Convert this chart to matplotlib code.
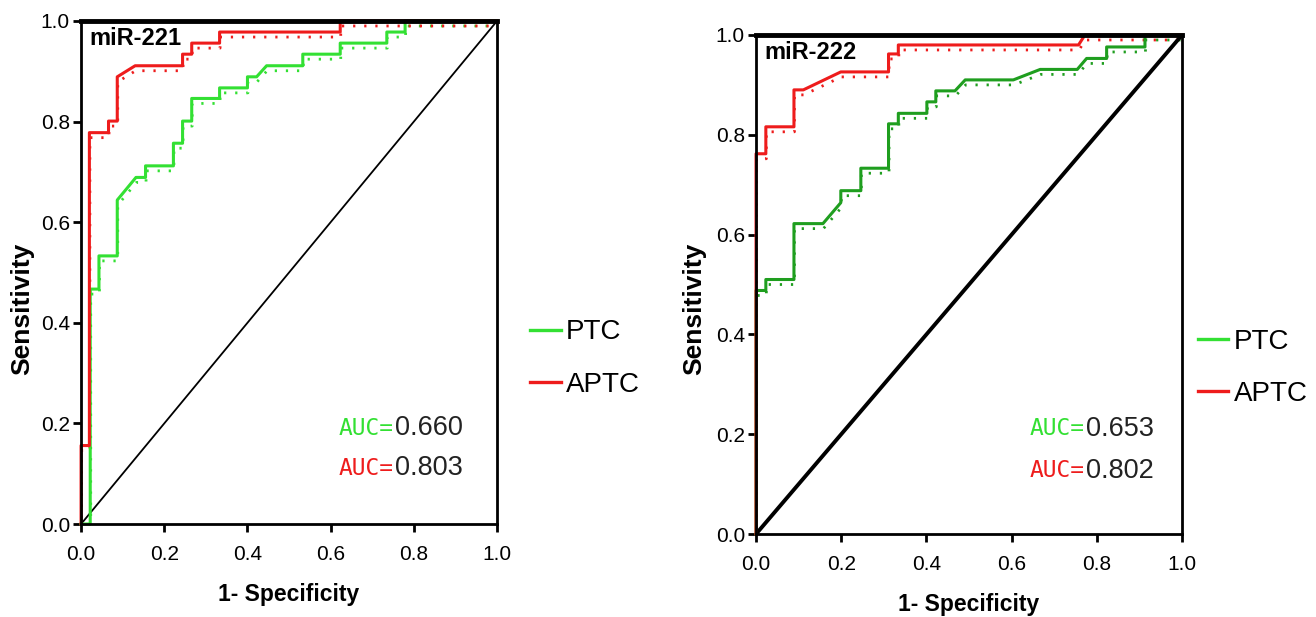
import matplotlib.pyplot as plt
import matplotlib.transforms as mtransforms
from matplotlib.lines import Line2D

plt.rcParams.update({
    'font.family': 'sans-serif',
    'font.sans-serif': ['Liberation Sans', 'DejaVu Sans'],
    'font.size': 13,
})

# ---- data ----
# miR-221
ptc221_x = [0.0, 0.022, 0.022, 0.043, 0.043, 0.087, 0.087, 0.132, 0.155, 0.155, 0.222, 0.222,
            0.244, 0.244, 0.266, 0.266, 0.333, 0.333, 0.400, 0.400, 0.422, 0.446, 0.533, 0.533,
            0.623, 0.623, 0.735, 0.735, 0.779, 0.779, 1.0]
ptc221_y = [0.0, 0.0, 0.467, 0.467, 0.533, 0.533, 0.644, 0.689, 0.689, 0.712, 0.712, 0.757,
            0.757, 0.801, 0.801, 0.846, 0.846, 0.867, 0.867, 0.889, 0.889, 0.911, 0.911, 0.934,
            0.934, 0.956, 0.956, 0.978, 0.978, 1.0, 1.0]
aptc221_x = [0.0, 0.0, 0.020, 0.020, 0.066, 0.066, 0.087, 0.087, 0.130, 0.244, 0.244, 0.266,
             0.266, 0.333, 0.333, 0.623, 0.623, 1.0]
aptc221_y = [0.0, 0.156, 0.156, 0.778, 0.778, 0.801, 0.801, 0.889, 0.911, 0.911, 0.934, 0.934,
             0.956, 0.956, 0.978, 0.978, 1.0, 1.0]
# miR-222
ptc222_x = [0.0, 0.0, 0.023, 0.023, 0.089, 0.089, 0.157, 0.199, 0.199, 0.246, 0.246, 0.311,
            0.311, 0.334, 0.334, 0.401, 0.401, 0.422, 0.422, 0.467, 0.491, 0.604, 0.667, 0.754,
            0.776, 0.823, 0.823, 0.913, 0.913, 1.0]
ptc222_y = [0.0, 0.488, 0.488, 0.510, 0.510, 0.622, 0.622, 0.664, 0.688, 0.688, 0.733, 0.733,
            0.822, 0.822, 0.843, 0.843, 0.866, 0.866, 0.888, 0.888, 0.910, 0.910, 0.931, 0.931,
            0.953, 0.953, 0.976, 0.976, 1.0, 1.0]
aptc222_x = [0.0, 0.0, 0.023, 0.023, 0.089, 0.089, 0.111, 0.199, 0.311, 0.311, 0.334, 0.334,
             0.757, 0.772, 1.0]
aptc222_y = [0.0, 0.762, 0.762, 0.816, 0.816, 0.890, 0.890, 0.926, 0.926, 0.962, 0.962, 0.980,
             0.980, 1.0, 1.0]

panels = [
    ('miR-221', ptc221_x, ptc221_y, aptc221_x, aptc221_y, '0.660', '0.803'),
    ('miR-222', ptc222_x, ptc222_y, aptc222_x, aptc222_y, '0.653', '0.802'),
]
legend_labels = ['PTC', 'APTC']
tick_vals = [0, 0.2, 0.4, 0.6, 0.8, 1.0]
tick_text = ['0.0', '0.2', '0.4', '0.6', '0.8', '1.0']

RED = '#ee1c1c'
LIME = '#33e033'
GREEN_DARK = '#1f9e1f'

fig = plt.figure(figsize=(13.16, 6.17), dpi=100)
axes_rects = [[0.0616, 0.1507, 0.3161, 0.8153], [0.5745, 0.1345, 0.3237, 0.8088]]
ptc_colors = [LIME, GREEN_DARK]
diag_lw = [1.3, 2.8]
auc_pos = [(0.751, 0.19, 0.111), (0.772, 0.211, 0.127)]
legend_anchor = [(0.4027, 0.419), (0.910, 0.404)]
ylabel_x = [34, 706]

for i, (name, px, py, ax_, ay, auc_p, auc_a) in enumerate(panels):
    ax = fig.add_axes(axes_rects[i])
    off = mtransforms.ScaledTranslation(0.005, -0.05, fig.dpi_scale_trans)
    # dotted companion traces
    ax.plot(px, py, color=ptc_colors[i], lw=2, ls=(0, (0.8, 3.2)), transform=ax.transData + off)
    ax.plot(ax_, ay, color=RED, lw=2, ls=(0, (0.8, 3.2)), transform=ax.transData + off)
    ax.plot([0, 1], [0, 1], color='black', lw=diag_lw[i])
    ax.plot(px, py, color=ptc_colors[i], lw=2.2, clip_on=False)
    ax.plot(ax_, ay, color=RED, lw=2.2, clip_on=False)

    ax.set_xlim(0, 1)
    ax.set_ylim(0, 1)
    ax.set_xticks(tick_vals)
    ax.set_yticks(tick_vals)
    ax.set_xticklabels(tick_text)
    ax.set_yticklabels(tick_text)
    ax.tick_params(direction='out', length=6, width=2, labelsize=15)
    ax.tick_params(axis='x', pad=9)
    ax.tick_params(axis='y', pad=2)
    for s in ['left', 'bottom', 'right']:
        ax.spines[s].set_linewidth(2)
    ax.spines['top'].set_linewidth(3.5)

    ax.set_xlabel('1- Specificity', fontsize=16.5, fontweight='bold', labelpad=14)
    ax.set_ylabel('Sensitivity', fontsize=19, fontweight='bold')
    ax.yaxis.set_label_coords(ylabel_x[i] / 1316, 0.5, transform=fig.transFigure)

    ax.text(0.02, 0.965, name, fontsize=17, fontweight='bold', va='center', ha='left')

    ax_auc, y1, y2 = auc_pos[i]
    ax.text(ax_auc, y1, 'AUC=', color=LIME, family='DejaVu Sans Mono', fontsize=16.5,
            ha='right', va='center')
    ax.text(ax_auc + 0.003, y1, auc_p, color='#222222', fontsize=19.5, ha='left', va='center')
    ax.text(ax_auc, y2, 'AUC=', color=RED, family='DejaVu Sans Mono', fontsize=16.5,
            ha='right', va='center')
    ax.text(ax_auc + 0.003, y2, auc_a, color='#222222', fontsize=19.5, ha='left', va='center')

    handles = [Line2D([], [], color=LIME, lw=2.4), Line2D([], [], color=RED, lw=2.4)]
    fig.legend(handles, legend_labels, loc='center left', bbox_to_anchor=legend_anchor[i],
               frameon=False, fontsize=20, handlelength=1.1, handletextpad=0.2,
               labelspacing=0.95, borderpad=0, borderaxespad=0)

plt.savefig('out.png', dpi=100, facecolor='white')
